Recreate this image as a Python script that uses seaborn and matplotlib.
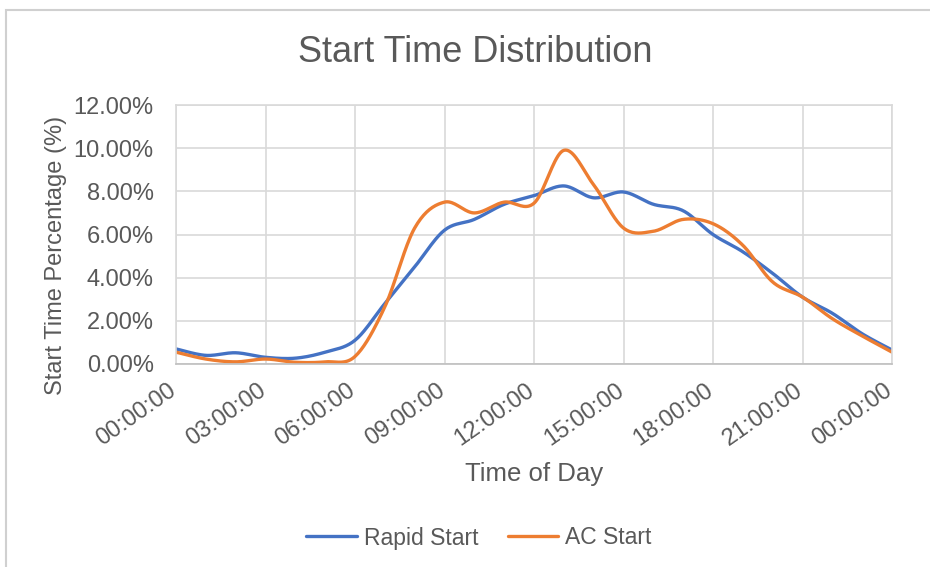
import numpy as np
import pandas as pd
import matplotlib
matplotlib.use("Agg")
import matplotlib.pyplot as plt
from matplotlib.patches import Rectangle
from matplotlib.transforms import ScaledTranslation
import seaborn as sns

# hourly start share (%)
hours = list(range(25))
rapid_start = [0.70, 0.40, 0.52, 0.31, 0.27, 0.55, 1.10, 2.80, 4.50, 6.20, 6.70, 7.40, 7.80,
               8.25, 7.70, 7.97, 7.40, 7.10, 6.00, 5.20, 4.20, 3.10, 2.35, 1.40, 0.65]
ac_start = [0.55, 0.23, 0.10, 0.23, 0.08, 0.10, 0.35, 2.65, 6.30, 7.50, 7.00, 7.50, 7.45,
            9.90, 8.30, 6.30, 6.15, 6.70, 6.50, 5.50, 3.80, 3.10, 2.10, 1.30, 0.55]
series_names = ["Rapid Start", "AC Start"]
tick_hours = [0, 3, 6, 9, 12, 15, 18, 21, 24]
tick_labels = ["00:00:00", "03:00:00", "06:00:00", "09:00:00", "12:00:00",
               "15:00:00", "18:00:00", "21:00:00", "00:00:00"]


def smooth(x, y, n=20):
    # catmull-rom, like excel's "smoothed line"
    x = np.asarray(x, float)
    y = np.asarray(y, float)
    px = np.concatenate([[x[0]], x, [x[-1]]])
    py = np.concatenate([[y[0]], y, [y[-1]]])
    xs, ys = [], []
    t = np.linspace(0, 1, n, endpoint=False)
    for i in range(1, len(px) - 2):
        for p, out in ((px, xs), (py, ys)):
            p0, p1, p2, p3 = p[i - 1], p[i], p[i + 1], p[i + 2]
            out.append(0.5 * (2 * p1 + (-p0 + p2) * t
                              + (2 * p0 - 5 * p1 + 4 * p2 - p3) * t ** 2
                              + (-p0 + 3 * p1 - 3 * p2 + p3) * t ** 3))
    xs.append([x[-1]])
    ys.append([y[-1]])
    return np.concatenate(xs), np.concatenate(ys)


frames = []
for name, vals in zip(series_names, [rapid_start, ac_start]):
    sx, sy = smooth(hours, vals)
    frames.append(pd.DataFrame({"hour": sx, "pct": sy, "series": name}))
df = pd.concat(frames, ignore_index=True)

sns.set_style("white")
plt.rcParams["font.family"] = ["Liberation Sans", "DejaVu Sans"]
text_col = "#595959"
grid_col = "#d9d9d9"

fig = plt.figure(figsize=(9.3, 5.67), dpi=100)
ax = fig.add_axes([176 / 930, 1 - 364 / 567, (892 - 176) / 930, (364 - 105) / 567])

sns.lineplot(data=df, x="hour", y="pct", hue="series", sort=False,
             palette=["#4472C4", "#ED7D31"], linewidth=2.4, ax=ax, legend=True)

ax.set_xlim(0, 24)
ax.set_ylim(0, 12)
ax.set_xticks(tick_hours)
ax.set_xticklabels(tick_labels, rotation=35, ha="right", rotation_mode="anchor")
ax.set_yticks(range(0, 13, 2))
ax.set_yticklabels([f"{v:.2f}%" for v in range(0, 13, 2)])
ax.tick_params(axis="both", length=0, labelsize=17, labelcolor=text_col)
ax.tick_params(axis="x", pad=11)
ax.tick_params(axis="y", pad=16)
shift = ScaledTranslation(-8 / 100, 0, fig.dpi_scale_trans)
for lab in ax.get_xticklabels():
    lab.set_transform(lab.get_transform() + shift)
ax.grid(True, color=grid_col, linewidth=1.2)
for s in ax.spines.values():
    s.set_color(grid_col)
    s.set_linewidth(1.2)
ax.spines["bottom"].set_color("#bfbfbf")

ax.set_xlabel("Time of Day", fontsize=18.5, color=text_col)
ax.xaxis.set_label_coords(0.5, -0.378)
ax.set_ylabel("Start Time Percentage (%)", fontsize=17, color=text_col)
ax.yaxis.set_label_coords(-0.152, 0.42)
fig.text(0.511, 1 - 52 / 567, "Start Time Distribution", fontsize=26,
         color=text_col, ha="center", va="center")

handles, labels = ax.get_legend_handles_labels()
ax.legend_.remove()
fig.legend(handles, labels, loc="center", bbox_to_anchor=(479 / 930, 1 - 538 / 567),
           ncol=2, frameon=False, fontsize=16.5, labelcolor=text_col,
           handlelength=2.2, handletextpad=0.3, columnspacing=1.3)

# chart area border
fig.patches.append(Rectangle((6 / 930, -0.1), 1.2, 1 - 10 / 567 + 0.1,
                             transform=fig.transFigure, fill=False,
                             edgecolor="#d0d0d0", linewidth=1.5))

fig.savefig("out.png", dpi=100)
